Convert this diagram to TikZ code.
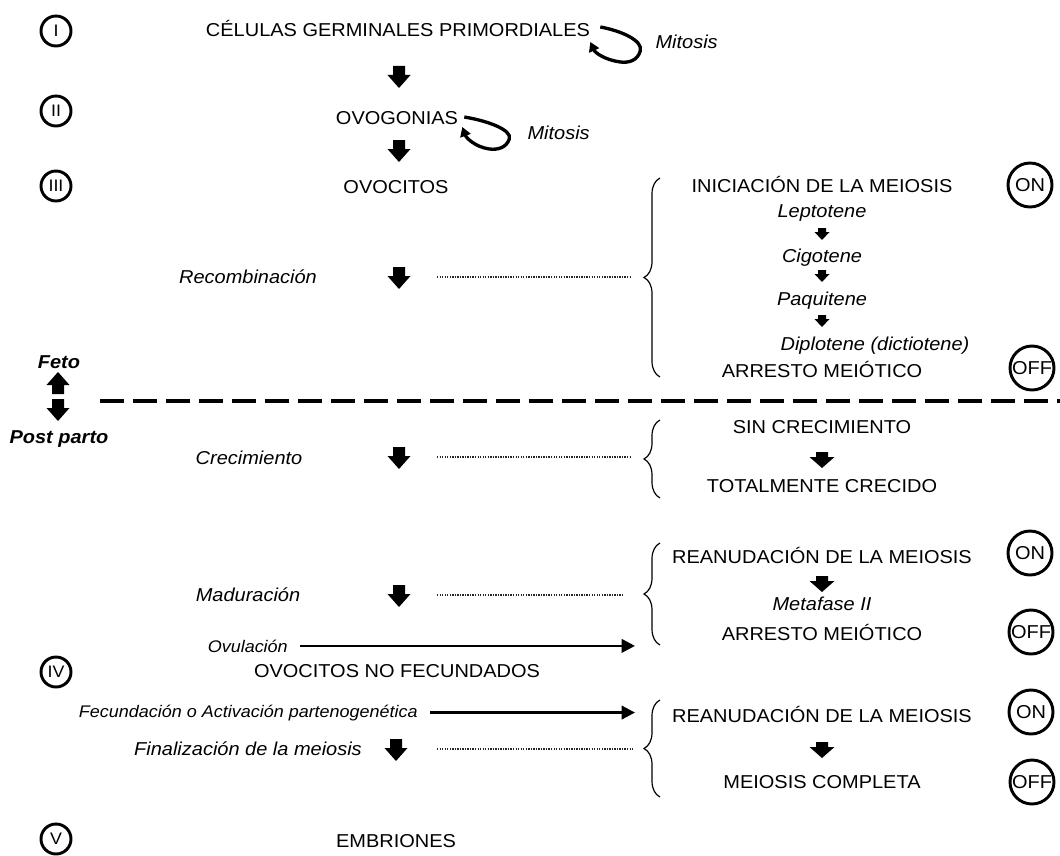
\documentclass[tikz,border=0pt]{standalone}
\usepackage{fontspec}
\setmainfont{Liberation Sans}[FakeStretch=1.07]
\usetikzlibrary{arrows.meta,decorations.pathreplacing,calc}
\begin{document}
\begin{tikzpicture}[x=0.75pt,y=-0.75pt,
  every node/.style={inner sep=0pt},
  txt/.style={anchor=base,font=\fontsize{14}{16}\selectfont},
  itx/.style={anchor=base,font=\fontsize{14}{16}\selectfont\itshape},
  itsm/.style={anchor=base,font=\fontsize{12.6}{15}\selectfont\itshape},
  bfit/.style={anchor=base,font=\fontsize{14}{16}\selectfont\bfseries\itshape},
  roman/.style={circle,draw,line width=2.2pt,minimum size=22.5pt,font=\fontsize{12.5}{14}\selectfont},
  onoff/.style={circle,draw,line width=2.2pt,minimum size=33pt,font=\fontsize{14}{16}\selectfont},
  brc/.style={decorate,decoration={brace,amplitude=12pt},line width=0.9pt},
  dots/.style={line width=1pt,dash pattern=on 1pt off 0.9pt,black!85},
  dashsep/.style={line width=3pt,dash pattern=on 18pt off 6.75pt},
  harrow/.style={-{Triangle[length=10pt,width=10pt]},line width=2pt},
  loopar/.style={-{Triangle[length=7pt,width=8pt]},line width=2.5pt},
  pics/barrow/.style={code={\fill (-6,0) -- (6,0) -- (6,9) -- (11.5,9) -- (0,22) -- (-11.5,9) -- (-6,9) -- cycle;}},
  pics/rarrow/.style={code={\fill (-6,0) -- (6,0) -- (6,5) -- (12.5,5) -- (0,16) -- (-12.5,5) -- (-6,5) -- cycle;}},
  pics/sarrow/.style={code={\fill (-4,0) -- (4,0) -- (4,4) -- (7.5,4) -- (0,12) -- (-7.5,4) -- (-4,4) -- cycle;}},
  pics/uarrow/.style={code={\fill (-6,0) -- (6,0) -- (6,-9) -- (11.5,-9) -- (0,-22) -- (-11.5,-9) -- (-6,-9) -- cycle;}},
  pics/mitloop/.style={code={\draw[loopar] (10,-10) .. controls (32,-6) and (53,4) .. (50,14) .. controls (47,24) and (38,26) .. (30,25) .. controls (15,23) and (5,16) .. (0,5);}},
  pics/mitloopb/.style={code={\draw[loopar] (6,-7) .. controls (30,-3) and (54,6) .. (51,15) .. controls (48,24) and (39,26) .. (31,25) .. controls (17,23) and (8,14) .. (4,3);}},
]
\useasboundingbox (0,0) rectangle (1060,856);

% Roman numerals
\node[roman] (r1) at (56,31) {I};
\node[roman] (r2) at (56,111) {II};
\node[roman] (r3) at (56,186) {III};
\node[roman] (r4) at (56,672) {IV};
\node[roman] (r5) at (56,839) {V};

% Top stages
\node[txt] (cgp) at (398,37) {CÉLULAS GERMINALES PRIMORDIALES};
\pic at (cgp.base east) {mitloop};
\node[itx,anchor=base west] (mit1) at ($(cgp.base east)+(65,12)$) {Mitosis};
\pic at (399,66) {barrow};
\node[txt] (ovg) at (397,124) {OVOGONIAS};
\pic at (ovg.base east) {mitloopb};
\node[itx,anchor=base west] (mit2) at ($(ovg.base east)+(69,15)$) {Mitosis};
\pic at (399,140) {barrow};
\node[txt] (ovc) at (396,193) {OVOCITOS};

% Recombination
\node[itx] (rec) at (248,283) {Recombinación};
\pic at (399,267) {barrow};
\coordinate (d1a) at (437,277);
\coordinate (d1b) at (630,277);
\draw[dots] (d1a) -- (d1b);
\coordinate (b1b) at (660,377);
\coordinate (b1t) at (660,178);
\draw[brc] (b1b) -- (b1t);
\node[txt] (ini) at (822,192) {INICIACIÓN DE LA MEIOSIS};
\node[onoff] (on1) at (1030,185) {ON};
\node[itx] (lep) at (822,217) {Leptotene};
\pic at (822,228) {sarrow};
\node[itx] (cig) at (822,262) {Cigotene};
\pic at (822,270) {sarrow};
\node[itx] (paq) at (822,305) {Paquitene};
\pic at (822,315) {sarrow};
\node[itx] (dip) at (875,350) {Diplotene (dictiotene)};
\node[txt] (arr1) at (822,377) {ARRESTO MEIÓTICO};
\node[onoff] (off1) at (1032,368) {OFF};

% Feto / Post parto
\node[bfit] (feto) at (59,368) {Feto};
\pic at (58,394) {uarrow};
\pic at (58,399) {barrow};
\node[bfit] (pp) at (59,443) {Post parto};
\coordinate (ds) at (100,401);
\coordinate (de) at (1060,401);
\draw[dashsep] (ds) -- (de);

% Growth
\node[itx] (cre) at (249,464) {Crecimiento};
\pic at (399,447) {barrow};
\coordinate (d2a) at (437,457);
\coordinate (d2b) at (630,457);
\draw[dots] (d2a) -- (d2b);
\coordinate (b2b) at (660,498);
\coordinate (b2t) at (660,420);
\draw[brc] (b2b) -- (b2t);
\node[txt] (sin) at (822,433) {SIN CRECIMIENTO};
\pic at (822,452) {rarrow};
\node[txt] (tot) at (822,492) {TOTALMENTE CRECIDO};

% Maturation
\node[itx] (mad) at (248,601) {Maduración};
\pic at (399,585) {barrow};
\coordinate (d3a) at (437,595);
\coordinate (d3b) at (624,595);
\draw[dots] (d3a) -- (d3b);
\coordinate (b3b) at (660,645);
\coordinate (b3t) at (660,543);
\draw[brc] (b3b) -- (b3t);
\node[txt] (rea1) at (822,563) {REANUDACIÓN DE LA MEIOSIS};
\node[onoff] (on2) at (1030,553) {ON};
\pic at (822,576) {rarrow};
\node[itx] (met) at (822,610) {Metafase II};
\node[txt] (arr2) at (822,640) {ARRESTO MEIÓTICO};
\node[onoff] (off2) at (1031,632) {OFF};

% Ovulation
\node[itsm,anchor=base east] (ovu) at (288,652) {Ovulación};
\coordinate (ovuE) at (635,646);
\draw[harrow] ([xshift=9pt]ovu.east) -- (ovu.east -| ovuE);
\node[txt] (onf) at (397,677) {OVOCITOS NO FECUNDADOS};

% Fertilization
\node[itsm,anchor=base east] (fec) at (418,717) {Fecundación o Activación partenogenética};
\coordinate (fecE) at (635,712);
\draw[harrow] ([xshift=9pt]fec.east) -- (fec.east -| fecE);
\node[itx] (fin) at (248,755) {Finalización de la meiosis};
\pic at (396,739) {barrow};
\coordinate (d4a) at (437,749);
\coordinate (d4b) at (634,749);
\draw[dots] (d4a) -- (d4b);
\coordinate (b4b) at (660,797);
\coordinate (b4t) at (660,700);
\draw[brc] (b4b) -- (b4t);
\node[txt] (rea2) at (822,722) {REANUDACIÓN DE LA MEIOSIS};
\node[onoff] (on3) at (1031,712) {ON};
\pic at (822,742) {rarrow};
\node[txt] (mc) at (822,788) {MEIOSIS COMPLETA};
\node[onoff] (off3) at (1032,782) {OFF};

\node[txt] (emb) at (396,847) {EMBRIONES};
\end{tikzpicture}
\end{document}
